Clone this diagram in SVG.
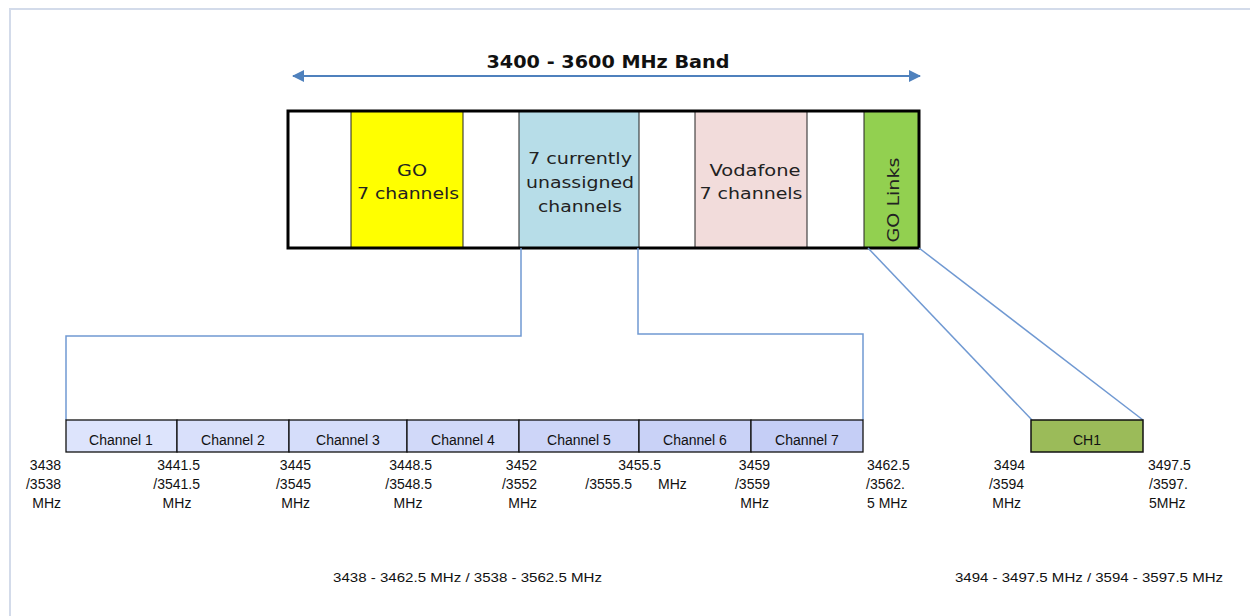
<svg xmlns="http://www.w3.org/2000/svg" width="1250" height="616" viewBox="0 0 1250 616">
<style>
.frame{fill:none;stroke:#d3dbea;stroke-width:2}
.seg{stroke:#222;stroke-width:1}
.band{fill:none;stroke:#000;stroke-width:3}
.bt{font-family:"DejaVu Sans",Verdana,sans-serif;font-size:16px;fill:#222;text-anchor:middle}
.title{font-family:"DejaVu Sans",Verdana,sans-serif;font-size:17px;font-weight:bold;fill:#111;text-anchor:middle}
.ch{stroke:#111;stroke-width:1.3}
.cht{font-family:"Liberation Sans",Arial,sans-serif;font-size:14px;fill:#111;text-anchor:middle}
.f{font-family:"Liberation Sans",Arial,sans-serif;font-size:14px;fill:#111}
.e{text-anchor:end}
.m{text-anchor:middle}
.s{text-anchor:start}
.con{fill:none;stroke:#7099d2;stroke-width:1.5}
.arr{stroke:#4f81bd;stroke-width:2;fill:none}
</style>
<defs>
<marker id="ah" viewBox="0 0 12 12" refX="11" refY="6" markerWidth="13" markerHeight="12" orient="auto-start-reverse" markerUnits="userSpaceOnUse">
<path d="M0,0 L12,6 L0,12 z" fill="#4f81bd"/>
</marker>
</defs>
<rect width="1250" height="616" fill="#fff"/>
<path class="frame" d="M10,616 V9 H1250"/>

<g id="band-arrow">
<line class="arr" x1="293" y1="76" x2="920" y2="76" marker-start="url(#ah)" marker-end="url(#ah)"/>
<text class="title" x="608" y="68" textLength="243" lengthAdjust="spacingAndGlyphs">3400 - 3600 MHz Band</text>
</g>

<g id="band">
<rect x="288" y="111" width="631" height="137" fill="#fff"/>
<rect id="go" class="seg" x="351" y="111" width="112" height="137" fill="#ffff00"/>
<rect id="unassigned" class="seg" x="519" y="111" width="120" height="137" fill="#b7dde8"/>
<rect id="vodafone" class="seg" x="695" y="111" width="112" height="137" fill="#f2dcdb"/>
<rect id="golinks" class="seg" x="864" y="111" width="55" height="137" fill="#92d050"/>
<rect class="band" x="288" y="111" width="631" height="137"/>
<text class="bt" x="412" y="176" textLength="30" lengthAdjust="spacingAndGlyphs">GO</text>
<text class="bt" x="408" y="199" textLength="102" lengthAdjust="spacingAndGlyphs">7 channels</text>
<text class="bt" x="580" y="164" textLength="104" lengthAdjust="spacingAndGlyphs">7 currently</text>
<text class="bt" x="580" y="188" textLength="108" lengthAdjust="spacingAndGlyphs">unassigned</text>
<text class="bt" x="580" y="212" textLength="84" lengthAdjust="spacingAndGlyphs">channels</text>
<text class="bt" x="755" y="176" textLength="91" lengthAdjust="spacingAndGlyphs">Vodafone</text>
<text class="bt" x="751" y="199" textLength="103" lengthAdjust="spacingAndGlyphs">7 channels</text>
<text class="bt" transform="translate(899,200) rotate(-90)" textLength="85" lengthAdjust="spacingAndGlyphs">GO Links</text>
</g>

<g id="connectors">
<path class="con" d="M521,248 V336 H66 V420"/>
<path class="con" d="M638,248 V334 H863 V420"/>
<line class="con" x1="868" y1="248" x2="1032" y2="420"/>
<line class="con" x1="919" y1="248" x2="1143" y2="420"/>
</g>

<g id="channels">
<rect class="ch" x="66" y="420" width="111" height="32" fill="#dde4fc"/>
<rect class="ch" x="177" y="420" width="112" height="32" fill="#d9e0fb"/>
<rect class="ch" x="289" y="420" width="118" height="32" fill="#d5ddfa"/>
<rect class="ch" x="407" y="420" width="112" height="32" fill="#d1d9f9"/>
<rect class="ch" x="519" y="420" width="120" height="32" fill="#cdd5f8"/>
<rect class="ch" x="639" y="420" width="112" height="32" fill="#c9d2f7"/>
<rect class="ch" x="751" y="420" width="112" height="32" fill="#c5cef6"/>
<text class="cht" x="121" y="445">Channel 1</text>
<text class="cht" x="233" y="445">Channel 2</text>
<text class="cht" x="348" y="445">Channel 3</text>
<text class="cht" x="463" y="445">Channel 4</text>
<text class="cht" x="579" y="445">Channel 5</text>
<text class="cht" x="695" y="445">Channel 6</text>
<text class="cht" x="807" y="445">Channel 7</text>
</g>

<g id="ch1">
<rect x="1031" y="420" width="112" height="32" fill="#9bbb59" stroke="#111" stroke-width="1.5"/>
<text class="cht" x="1087" y="445">CH1</text>
</g>

<g id="freq-labels">
<text class="f e" x="61" y="470">3438</text>
<text class="f e" x="61" y="489">/3538</text>
<text class="f e" x="61" y="508">MHz</text>
<text class="f e" x="200" y="470">3441.5</text>
<text class="f e" x="200" y="489">/3541.5</text>
<text class="f m" x="177" y="508">MHz</text>
<text class="f e" x="311" y="470">3445</text>
<text class="f e" x="311" y="489">/3545</text>
<text class="f e" x="310" y="508">MHz</text>
<text class="f e" x="432" y="470">3448.5</text>
<text class="f e" x="432" y="489">/3548.5</text>
<text class="f m" x="408" y="508">MHz</text>
<text class="f e" x="537" y="470">3452</text>
<text class="f e" x="537" y="489">/3552</text>
<text class="f e" x="537" y="508">MHz</text>
<text class="f e" x="661" y="470">3455.5</text>
<text class="f e" x="632" y="489">/3555.5</text>
<text class="f s" x="658" y="489">MHz</text>
<text class="f e" x="770" y="470">3459</text>
<text class="f e" x="770" y="489">/3559</text>
<text class="f e" x="769" y="508">MHz</text>
<text class="f s" x="867" y="470">3462.5</text>
<text class="f s" x="866" y="489">/3562.</text>
<text class="f s" x="867" y="508">5 MHz</text>
<text class="f e" x="1025" y="470">3494</text>
<text class="f e" x="1024" y="489">/3594</text>
<text class="f e" x="1021" y="508">MHz</text>
<text class="f s" x="1148" y="470">3497.5</text>
<text class="f s" x="1149" y="489">/3597.</text>
<text class="f s" x="1149" y="508">5MHz</text>
<text class="f s" x="333" y="582" textLength="269" lengthAdjust="spacingAndGlyphs" style="font-size:13px">3438 - 3462.5 MHz / 3538 - 3562.5 MHz</text>
<text class="f s" x="955" y="582" textLength="268" lengthAdjust="spacingAndGlyphs" style="font-size:13px">3494 - 3497.5 MHz / 3594 - 3597.5 MHz</text>
</g>
</svg>
